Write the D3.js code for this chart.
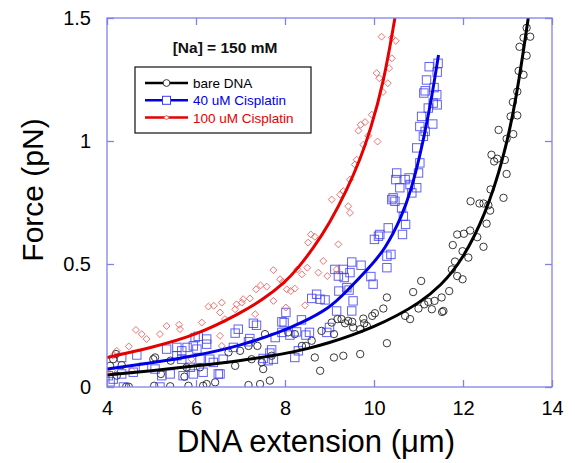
<!DOCTYPE html>
<html>
<head>
<meta charset="utf-8">
<script src="https://cdn.jsdelivr.net/npm/d3@7/dist/d3.min.js"></script>
<style>
  html, body { margin: 0; padding: 0; background: #fff; }
  svg { display: block; font-family: Arial, "Liberation Sans", sans-serif; }
</style>
</head>
<body>
<svg id="chart" width="575" height="463"></svg>
<script>
// ---------- data (DNA extension in µm, force in pN) ----------
const xTicks = [4, 6, 8, 10, 12, 14];
const yTicks = [0, 0.5, 1, 1.5];
const yTickLabels = ["0", "0.5", "1", "1.5"];
const seriesNames = ["bare DNA", "40 uM Cisplatin", "100 uM Cisplatin"];

const bareDNA = [
  [13.43,1.46],[13.36,1.42],[13.51,1.424],[13.27,1.383],[13.43,1.347],[13.25,1.285],[13.36,1.269],
  [13.22,1.201],[13.12,1.158],[13.07,1.10],[13.22,1.104],[13.13,1.028],[12.80,1.045],[12.98,1.009],
  [12.64,0.944],[12.70,0.917],[12.77,0.928],[12.94,0.923],[12.98,0.866],[12.62,0.803],[12.91,0.769],
  [12.17,0.755],[12.37,0.746],[12.46,0.746],[12.57,0.739],[12.61,0.717],[12.53,0.664],[12.16,0.636],
  [12.02,0.623],[11.87,0.62],[12.32,0.609],[12.46,0.57],[11.77,0.577],[11.99,0.552],[12.12,0.526],
  [11.82,0.51],[11.75,0.478],[11.87,0.451],[11.99,0.438],[11.69,0.39],[11.52,0.364],[11.56,0.309],
  [11.06,0.431],[10.88,0.386],[10.29,0.364],[10.21,0.319],[10.02,0.30],[9.96,0.289],[9.76,0.278],
  [9.78,0.259],[9.51,0.265],[9.42,0.269],[9.27,0.276],[9.35,0.259],[9.53,0.242],[9.69,0.235],
  [9.84,0.248],[10.70,0.289],[10.81,0.276],[11.00,0.319],[11.13,0.336],[11.22,0.346],[11.30,0.316],
  [11.36,0.35],[11.53,0.305],[10.29,0.178],[9.18,0.276],[9.05,0.262],[8.82,0.228],[9.10,0.215],
  [8.60,0.188],[8.47,0.167],[8.38,0.167],[8.22,0.215],[8.07,0.222],[7.55,0.215],[7.38,0.167],
  [7.18,0.167],[6.99,0.147],[6.88,0.086],[6.73,0.141],[7.25,0.113],[7.48,0.10],[7.51,0.073],
  [7.70,0.127],[8.67,0.12],[9.10,0.12],[8.79,0.066],[7.18,0.008],[7.44,0.012],[7.66,0.026],
  [9.31,0.127],[9.69,0.134],
  [4.20,0.134],[4.14,0.113],[4.07,0.086],[4.33,0.089],[5.08,0.12],[5.04,0.113],[5.43,0.107],
  [5.79,0.08],[5.74,0.042],[5.21,0.053],[4.43,0.001],[4.49,0.001],[5.06,0.005],[5.42,0.003],
  [5.83,0.005],[6.16,0.005],[6.24,0.012],[6.43,0.019],[6.09,0.08],[4.22,0.046]
];

const cis40 = [
  [11.24,1.302],[11.44,1.316],[11.42,1.28],[11.18,1.248],[11.35,1.217],[11.15,1.204],[11.12,1.195],
  [11.41,1.188],[11.22,1.134],[11.42,1.147],[11.33,1.154],[11.07,1.10],[11.32,1.069],[11.03,1.059],
  [11.15,1.039],[11.11,1.019],[10.96,0.972],[11.03,0.911],[11.00,0.87],[10.51,0.87],[10.49,0.843],
  [10.70,0.843],[10.79,0.85],[10.58,0.81],[10.81,0.823],[10.96,0.81],[10.85,0.789],[10.43,0.769],
  [10.40,0.762],[10.47,0.755],[10.62,0.728],[10.66,0.694],[10.71,0.661],[10.64,0.62],[10.32,0.647],
  [10.13,0.62],[10.10,0.613],[10.01,0.60],[10.38,0.539],[10.29,0.485],[10.29,0.532],[9.71,0.495],
  [9.50,0.508],[9.31,0.478],[9.46,0.465],[9.33,0.445],[9.93,0.449],[9.98,0.418],[9.39,0.404],
  [9.44,0.394],[9.21,0.39],[9.53,0.35],[9.50,0.309],[9.16,0.309],[9.12,0.478],[9.20,0.451],
  [8.71,0.377],[8.60,0.36],[8.79,0.357],[8.90,0.354],[8.02,0.303],[7.93,0.265],[7.98,0.262],
  [7.29,0.259],[7.36,0.251],[8.37,0.273],[8.26,0.224],[8.47,0.211],[8.55,0.222],[8.11,0.211],
  [7.93,0.222],[7.78,0.201],[6.95,0.235],[6.88,0.219],[7.21,0.197],[7.18,0.184],[7.70,0.151],
  [7.66,0.138],[7.51,0.116],[7.62,0.107],[7.74,0.113],[8.30,0.147],[8.22,0.12],[6.84,0.161],
  [6.61,0.113],[6.54,0.053],[9.00,0.242],[8.94,0.222],
  [4.67,0.13],[4.33,0.12],[4.14,0.032],[4.33,0.053],[4.59,0.06],[4.82,0.08],[5.08,0.073],
  [5.23,0.046],[5.42,0.053],[4.37,0.0],[5.19,0.0],[5.71,0.046],[5.94,0.053],[6.16,0.06],
  [6.50,0.053],[5.34,0.154],[5.57,0.161],[5.68,0.147],[5.80,0.161],[5.94,0.167],[6.02,0.154],
  [5.98,0.201],[6.05,0.206],[6.24,0.195],[6.24,0.174],[5.57,0.127],[5.68,0.113],[6.09,0.113],
  [6.31,0.113],[6.39,0.10],[5.87,0.08],[4.03,0.046],[4.07,0.021]
];

const cis100 = [
  [10.17,1.424],[10.40,1.42],[10.49,1.407],[10.40,1.336],[10.34,1.296],[10.06,1.276],[10.12,1.255],
  [10.31,1.235],[10.20,1.199],[9.95,1.107],[9.80,1.077],[9.70,1.066],[9.65,1.042],[9.87,1.021],
  [10.08,0.998],[9.76,0.985],[9.61,0.924],[9.57,0.904],[9.46,0.843],[9.31,0.796],[9.24,0.782],
  [9.42,0.735],[9.46,0.708],[9.20,0.58],[9.16,0.478],[9.05,0.762],[8.58,0.62],[8.67,0.611],
  [8.52,0.587],[8.86,0.512],[8.75,0.465],[8.95,0.451],[8.50,0.485],[8.38,0.458],[8.28,0.478],
  [7.74,0.475],[7.89,0.438],[7.95,0.427],[8.22,0.40],[8.13,0.39],[7.45,0.413],[7.35,0.397],
  [7.59,0.408],[7.21,0.36],[7.06,0.357],[7.03,0.343],[6.91,0.336],[6.88,0.316],[6.58,0.343],
  [7.33,0.296],[7.74,0.35],[8.45,0.332],[8.02,0.323],[6.65,0.276],[6.54,0.208],[6.58,0.167],
  [4.65,0.232],[4.78,0.215],[4.89,0.195],[5.19,0.215],[5.34,0.248],[5.62,0.253],[5.64,0.235],
  [6.13,0.262],[6.28,0.327],[6.40,0.33],[6.54,0.303],[4.49,0.165],[4.22,0.147],[4.14,0.127],
  [4.11,0.066],[3.99,0.066],[4.56,0.066],[5.90,0.113],[8.04,0.397]
];

// fitted curves
const fitBare = [[4,0.049],[5,0.066],[6,0.086],[7,0.107],[8,0.135],[8.5,0.155],[9,0.18],[9.5,0.21],
  [10,0.245],[10.5,0.288],[11,0.34],[11.5,0.41],[12,0.52],[12.5,0.70],[12.9,0.92],[13.2,1.17],[13.47,1.505]];
const fit40 = [[4,0.073],[5,0.098],[6,0.127],[7,0.168],[7.89,0.223],[8.34,0.258],[9,0.32],[9.39,0.39],
  [9.87,0.48],[10.25,0.56],[10.62,0.69],[10.85,0.81],[11.03,0.94],[11.15,1.04],[11.3,1.18],[11.45,1.35]];
const fit100 = [[4,0.12],[5,0.16],[6,0.21],[7,0.30],[7.5,0.355],[8,0.425],[8.3,0.485],[8.64,0.565],
  [9,0.665],[9.39,0.80],[9.7,0.93],[9.91,1.04],[10.21,1.23],[10.47,1.5]];

// ---------- layout ----------
const svg = d3.select("#chart");
const L = 107, R = 552, T = 18, B = 387;
const x = d3.scaleLinear().domain([4, 14]).range([L, R]);
const y = d3.scaleLinear().domain([0, 1.5]).range([B, T]);
const frameColor = "#8282e6";

svg.append("defs").append("clipPath").attr("id", "plotclip")
  .append("rect").attr("x", L).attr("y", T).attr("width", R - L).attr("height", B - T);

// scatter markers
const gPts = svg.append("g").attr("clip-path", "url(#plotclip)");
gPts.append("g").selectAll("circle").data(bareDNA).join("circle")
  .attr("cx", d => x(d[0])).attr("cy", d => y(d[1])).attr("r", 3.7)
  .attr("fill", "none").attr("stroke", "#222").attr("stroke-width", 0.9);
gPts.append("g").selectAll("rect").data(cis40).join("rect")
  .attr("x", d => x(d[0]) - 4.2).attr("y", d => y(d[1]) - 4.2).attr("width", 8.4).attr("height", 8.4)
  .attr("fill", "none").attr("stroke", "#3a3af0").attr("stroke-opacity", 0.8).attr("stroke-width", 1);
gPts.append("g").selectAll("path").data(cis100).join("path")
  .attr("d", d3.symbol(d3.symbolSquare, 24))
  .attr("transform", d => `translate(${x(d[0])},${y(d[1])}) rotate(45)`)
  .attr("fill", "none").attr("stroke", "#f05050").attr("stroke-opacity", 0.85).attr("stroke-width", 0.9);

// fit lines
const line = d3.line().x(d => x(d[0])).y(d => y(d[1])).curve(d3.curveBasis);
const gLines = svg.append("g").attr("clip-path", "url(#plotclip)");
[[fitBare, "#000000"], [fit40, "#0000e6"], [fit100, "#e60000"]].forEach(([data, col]) => {
  gLines.append("path").datum(data).attr("d", line)
    .attr("fill", "none").attr("stroke", col).attr("stroke-width", 3);
});

// frame and axes
svg.append("rect").attr("x", L).attr("y", T).attr("width", R - L).attr("height", B - T)
  .attr("fill", "none").attr("stroke", frameColor).attr("stroke-width", 1.3);

const tickLen = 7;
const axB = d3.axisBottom(x).tickValues(xTicks).tickSizeInner(-tickLen).tickSizeOuter(0).tickPadding(14)
  .tickFormat(d3.format("d"));
const gB = svg.append("g").attr("transform", `translate(0,${B})`).call(axB);
const axT = d3.axisTop(x).tickValues(xTicks).tickSizeInner(-tickLen).tickSizeOuter(0).tickFormat("");
const gT = svg.append("g").attr("transform", `translate(0,${T})`).call(axT);
const axL = d3.axisLeft(y).tickValues(yTicks).tickSizeInner(-tickLen).tickSizeOuter(0).tickPadding(16)
  .tickFormat((d, i) => yTickLabels[i]);
const gL = svg.append("g").attr("transform", `translate(${L},0)`).call(axL);
const axR = d3.axisRight(y).tickValues(yTicks).tickSizeInner(-tickLen).tickSizeOuter(0).tickFormat("");
const gR = svg.append("g").attr("transform", `translate(${R},0)`).call(axR);

[gB, gT, gL, gR].forEach(g => {
  g.select(".domain").remove();
  g.selectAll(".tick line").attr("stroke", frameColor).attr("stroke-width", 1.3);
  g.selectAll(".tick text").attr("fill", "#000").attr("font-size", 20)
    .attr("font-family", "Arial, 'Liberation Sans', sans-serif");
});
gB.selectAll(".tick text").attr("dy", "0.71em");

// axis titles
svg.append("text").attr("x", 316).attr("y", 452).attr("text-anchor", "middle")
  .attr("font-size", 31).attr("fill", "#000").text("DNA extension (\u03bcm)");
svg.append("text").attr("transform", "translate(43,190) rotate(-90)").attr("text-anchor", "middle")
  .attr("font-size", 30).attr("fill", "#000").text("Force (pN)");

// annotation
svg.append("text").attr("x", 225).attr("y", 53).attr("text-anchor", "middle")
  .attr("font-size", 15.5).attr("font-weight", "bold").attr("fill", "#111").text("[Na] = 150 mM");

// legend
const lg = svg.append("g");
lg.append("rect").attr("x", 135).attr("y", 67).attr("width", 176).attr("height", 66)
  .attr("fill", "#fff").attr("stroke", "#222").attr("stroke-width", 1.3);
const legendColors = ["#000000", "#0000e6", "#e60000"];
const markerColors = ["#222", "#3a3af0", "#f05050"];
seriesNames.forEach((name, i) => {
  const yy = 83 + i * 17.3;
  lg.append("line").attr("x1", 145).attr("x2", 188).attr("y1", yy).attr("y2", yy)
    .attr("stroke", legendColors[i]).attr("stroke-width", 2.5);
  if (i === 0) {
    lg.append("circle").attr("cx", 166.5).attr("cy", yy).attr("r", 3.4)
      .attr("fill", "#fff").attr("stroke", markerColors[i]).attr("stroke-width", 0.9);
  } else if (i === 1) {
    lg.append("rect").attr("x", 162.5).attr("y", yy - 4).attr("width", 8).attr("height", 8)
      .attr("fill", "#fff").attr("stroke", markerColors[i]).attr("stroke-width", 1);
  } else {
    lg.append("path").attr("d", d3.symbol(d3.symbolSquare, 12))
      .attr("transform", `translate(166.5,${yy}) rotate(45)`)
      .attr("fill", "#fff").attr("stroke", markerColors[i]).attr("stroke-width", 0.9);
  }
  lg.append("text").attr("x", 193).attr("y", yy + 5).attr("font-size", 13.5)
    .attr("fill", legendColors[i]).text(name);
});
</script>
</body>
</html>
